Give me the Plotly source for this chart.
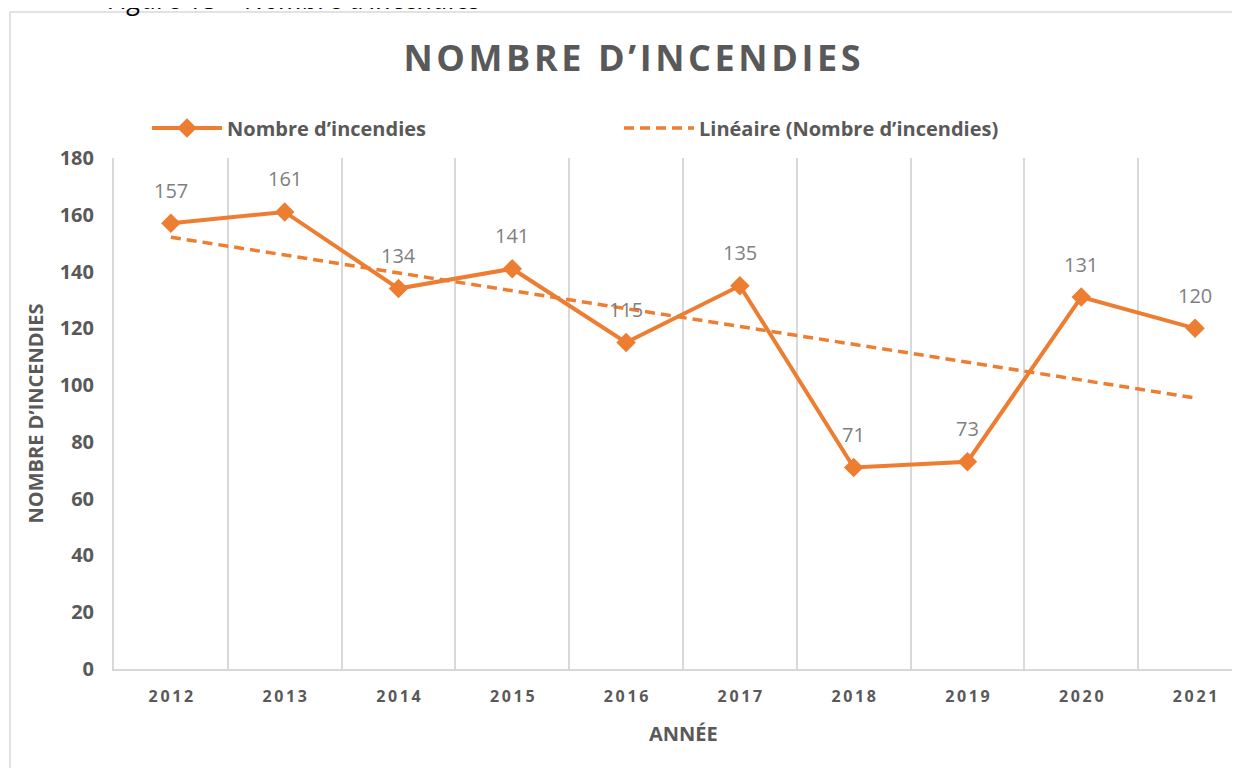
import numpy as np
import plotly.graph_objects as go

years = ["2012", "2013", "2014", "2015", "2016", "2017", "2018", "2019", "2020", "2021"]
fires = [157, 161, 134, 141, 115, 135, 71, 73, 131, 120]
y_ticks = [0, 20, 40, 60, 80, 100, 120, 140, 160, 180]

ORANGE = "#ED7D31"
DARK = "#595959"
LABEL = "#7F7F7F"
GRID = "#D9D9D9"
FONT = "Open Sans"

# page offset caused by the default body margin of the html page
OFF = 8
W, H = 1240 - OFF, 768 - OFF
L, T = 114 - OFF, 158 - OFF
B = H - (669 - OFF)
PW, PH = W - L, H - T - B

def px(xp):  # page x -> paper x
    return (xp - OFF - L) / PW

def py(yp):  # page y -> paper y
    return 1 - (yp - OFF - T) / PH

xs = list(range(len(years)))
slope, intercept = np.polyfit(xs, fires, 1)
trend = [slope * x + intercept for x in xs]

def spaced(s, sep="\u2009"):
    return sep.join(list(s))

fig = go.Figure()
fig.add_trace(go.Scatter(
    x=xs, y=fires, mode="lines+markers", name="Nombre d\u2019incendies",
    line=dict(color=ORANGE, width=4),
    marker=dict(symbol="diamond", size=15, color=ORANGE),
))
fig.add_trace(go.Scatter(
    x=xs, y=trend, mode="lines", name="Lin\u00e9aire (Nombre d\u2019incendies)",
    line=dict(color=ORANGE, width=3.5, dash="10px,6px"),
))

annotations = []
for x, v in zip(xs, fires):
    annotations.append(dict(x=x, y=v, text=str(v), showarrow=False, yshift=33,
                            font=dict(family=FONT, size=20, color=LABEL)))

# axis titles
annotations.append(dict(xref="paper", yref="paper", x=px(683), y=py(733),
                        text="ANN\u00c9E", showarrow=False, yanchor="middle", xanchor="center",
                        font=dict(family=FONT, size=20, color=DARK, weight="bold")))
annotations.append(dict(xref="paper", yref="paper", x=px(35), y=py(413.5),
                        text="NOMBRE D\u2019INCENDIES", showarrow=False, textangle=-90,
                        yanchor="middle", xanchor="center",
                        font=dict(family=FONT, size=20, color=DARK, weight="bold")))
# figure caption (cut off at top)
annotations.append(dict(xref="paper", yref="paper", x=px(106), y=py(-1.5),
                        text="Figure 15 \u2013 Nombre d\u2019incendies", showarrow=False,
                        xanchor="left", yanchor="middle",
                        font=dict(family=FONT, size=27, color="#000000", style="italic")))

fig.update_layout(
    width=W, height=H,
    margin=dict(l=L, r=0, t=T, b=B, pad=0),
    paper_bgcolor="white", plot_bgcolor="white",
    title=dict(text=spaced("NOMBRE D\u2019INCENDIES", "\u200a"), xref="container", yref="container",
               x=(632 - OFF) / W, y=1 - (58 - OFF) / H, xanchor="center", yanchor="middle",
               font=dict(family=FONT, size=36, color=DARK, weight="bold")),
    showlegend=True,
    legend=dict(orientation="h", x=px(147), y=py(128),
                xanchor="left", yanchor="middle", itemwidth=70, entrywidth=387,
                font=dict(family=FONT, size=20, color=DARK, weight="bold"),
                bgcolor="rgba(0,0,0,0)"),
    xaxis=dict(range=[-0.5, 9.395], tickmode="array", tickvals=xs,
               ticktext=[spaced(y) for y in years], showgrid=False, zeroline=False,
               showline=True, linecolor=GRID, linewidth=2, ticks="",
               ticklabelstandoff=12,
               tickfont=dict(family=FONT, size=16, color=DARK, weight="bold"),
               minor=dict(tickmode="array", tickvals=[x + 0.5 for x in xs[:-1]],
                          showgrid=True, gridcolor=GRID, gridwidth=2, ticks="")),
    yaxis=dict(range=[0, 180], tickmode="array", tickvals=y_ticks, showgrid=False,
               zeroline=False, showline=True, linecolor=GRID, linewidth=2, ticks="",
               ticklabelstandoff=14,
               tickfont=dict(family=FONT, size=20, color=DARK, weight="bold")),
    annotations=annotations,
    shapes=[dict(type="rect", xref="paper", yref="paper",
                 x0=px(10), x1=px(1260), y0=py(790), y1=py(12),
                 line=dict(color=GRID, width=1.5), fillcolor="rgba(0,0,0,0)", layer="below")],
)

fig.write_html("out.html")
